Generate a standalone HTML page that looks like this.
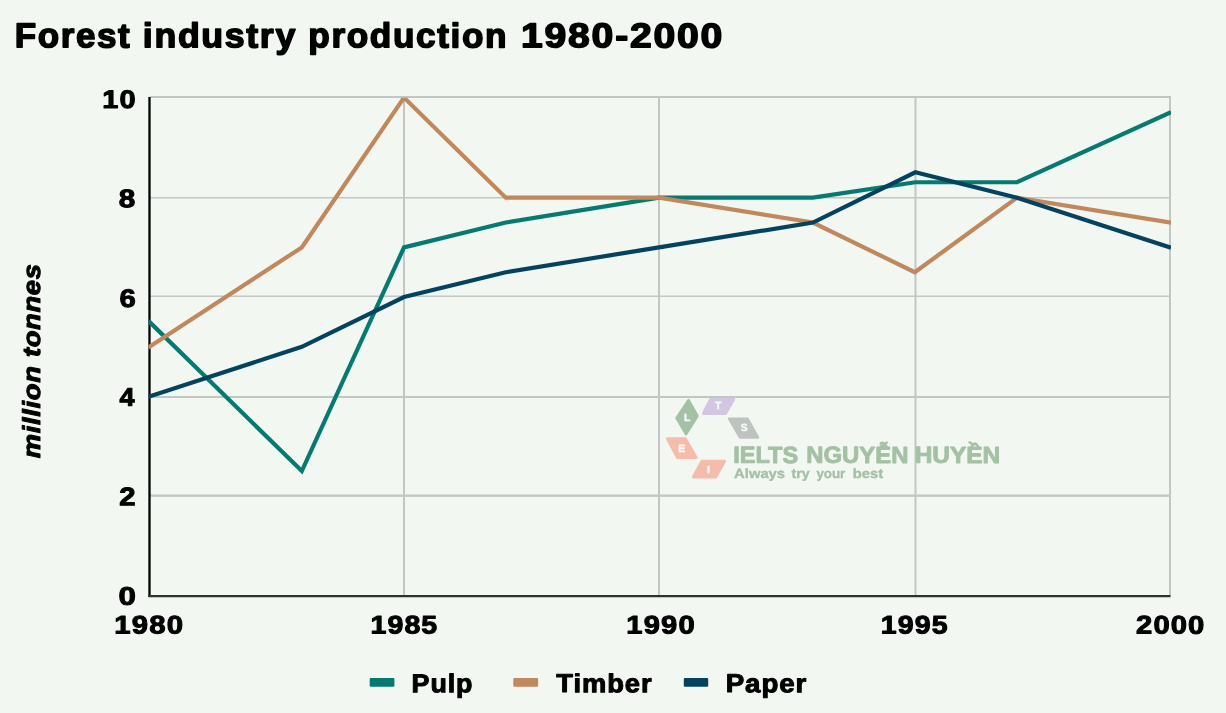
<!DOCTYPE html>
<html>
<head>
<meta charset="utf-8">
<title>Forest industry production 1980-2000</title>
<style>
html,body{margin:0;padding:0;background:#f2f7f2;}
body{width:1226px;height:713px;overflow:hidden;font-family:"Liberation Sans",sans-serif;}
svg{display:block;}
text{text-rendering:geometricPrecision;font-family:"Liberation Sans",sans-serif;font-weight:bold;fill:#000;stroke:#000;stroke-width:1;stroke-linejoin:round;}
.g{stroke:#c1c7c3;stroke-width:2;fill:none;}
.lt text{stroke:#f6faf6;stroke-width:0.4;fill:#f6faf6;}
</style>
</head>
<body>
<svg width="1226" height="713" viewBox="0 0 1226 713">
<defs><filter id="nf" x="-5%" y="-5%" width="110%" height="110%" color-interpolation-filters="sRGB"><feOffset dx="0" dy="0"/></filter><clipPath id="plot"><rect x="148.4" y="97.8" width="1022.6" height="500"/></clipPath></defs>
<rect x="0" y="0" width="1226" height="713" fill="#f2f7f2"/>

<!-- title -->
<g id="title" filter="url(#nf)">
<text x="14.69" y="47.35" transform="rotate(0.1 73.3 47.4)" font-size="34.6" textLength="116.66" lengthAdjust="spacingAndGlyphs" style="fill:#000;stroke:#000;stroke-width:1.5;letter-spacing:1.6px">Forest</text>
<text x="142.87" y="47.35" transform="rotate(0.1 220.2 47.4)" font-size="34.6" textLength="154.05" lengthAdjust="spacingAndGlyphs" style="fill:#000;stroke:#000;stroke-width:1.5;letter-spacing:1.6px">industry</text>
<text x="308.37" y="47.35" transform="rotate(0.1 407.6 47.4)" font-size="34.6" textLength="199.73" lengthAdjust="spacingAndGlyphs" style="fill:#000;stroke:#000;stroke-width:1.5;letter-spacing:1.6px">production</text>
<text x="521.07" y="47.35" transform="rotate(0.1 622.2 47.4)" font-size="34.6" textLength="202.95" lengthAdjust="spacingAndGlyphs" style="fill:#000;stroke:#000;stroke-width:1.5;letter-spacing:1.6px">1980-2000</text>
</g>

<!-- gridlines -->
<g fill="#c1c7c3">
<rect x="150" y="96" width="1021" height="2"/>
<rect x="150" y="197" width="1021" height="1.5"/>
<rect x="150" y="295.5" width="1021" height="1.5"/>
<rect x="150" y="396" width="1021" height="2"/>
<rect x="150" y="494.5" width="1021" height="2.4"/>
<rect x="403" y="96" width="2" height="500"/>
<rect x="658" y="96" width="2" height="500"/>
<rect x="914.5" y="96" width="2" height="500"/>
<rect x="1169" y="96" width="2" height="500"/>
</g>

<!-- watermark -->
<g id="wm">
<path d="M688.51 400.27 L697.43 415.96 L686.04 434.00 L676.69 418.05 Z" fill="#a4c0a5" stroke="#a4c0a5" stroke-width="2.7" stroke-linejoin="round"/>
<path d="M710.33 399.35 L733.86 399.35 L725.62 413.55 L703.10 413.55 Z" fill="#d3c6e1" stroke="#d3c6e1" stroke-width="2.7" stroke-linejoin="round"/>
<path d="M729.32 418.75 L747.41 418.75 L757.90 437.45 L739.98 437.45 Z" fill="#bdc3be" stroke="#bdc3be" stroke-width="2.7" stroke-linejoin="round"/>
<path d="M667.25 438.65 L685.51 438.65 L696.29 457.75 L677.41 457.75 Z" fill="#f5bcab" stroke="#f5bcab" stroke-width="2.7" stroke-linejoin="round"/>
<path d="M701.81 461.15 L724.79 461.15 L715.81 477.15 L693.16 477.15 Z" fill="#f5bcab" stroke="#f5bcab" stroke-width="2.7" stroke-linejoin="round"/>
<g class="lt" font-size="10.4" text-anchor="middle" filter="url(#nf)">
<text x="687.2" y="420.5">L</text>
<text x="718.1" y="409.2">T</text>
<text x="744.2" y="431.2">S</text>
<text x="681.8" y="451.8">E</text>
<text x="708.4" y="472.9">I</text>
</g>
<g id="wmt" filter="url(#nf)">
<text x="733.31" y="462.90" transform="rotate(0.1 766.2 462.9)" font-size="23.4" textLength="64.87" lengthAdjust="spacingAndGlyphs" style="fill:#a4c0a5;stroke:#a4c0a5;stroke-width:0.9;letter-spacing:0px">IELTS</text>
<text x="806.30" y="462.90" transform="rotate(0.1 857.5 462.9)" font-size="23.4" textLength="102.11" lengthAdjust="spacingAndGlyphs" style="fill:#a4c0a5;stroke:#a4c0a5;stroke-width:0.9;letter-spacing:0px">NGUYỄN</text>
<text x="914.67" y="462.90" transform="rotate(0.1 957.5 462.9)" font-size="23.4" textLength="85.55" lengthAdjust="spacingAndGlyphs" style="fill:#a4c0a5;stroke:#a4c0a5;stroke-width:0.9;letter-spacing:0px">HUYỀN</text>
<text x="734.11" y="478.00" transform="rotate(0.1 759.5 478.0)" font-size="13.4" textLength="50.94" lengthAdjust="spacingAndGlyphs" style="fill:#a4c0a5;stroke:#a4c0a5;stroke-width:0.35;letter-spacing:0px">Always</text>
<text x="791.44" y="478.00" transform="rotate(0.1 800.5 478.0)" font-size="13.4" textLength="18.07" lengthAdjust="spacingAndGlyphs" style="fill:#a4c0a5;stroke:#a4c0a5;stroke-width:0.35;letter-spacing:0px">try</text>
<text x="816.39" y="478.00" transform="rotate(0.1 830.8 478.0)" font-size="13.4" textLength="28.89" lengthAdjust="spacingAndGlyphs" style="fill:#a4c0a5;stroke:#a4c0a5;stroke-width:0.35;letter-spacing:0px">your</text>
<text x="852.73" y="478.00" transform="rotate(0.1 868.4 478.0)" font-size="13.4" textLength="30.46" lengthAdjust="spacingAndGlyphs" style="fill:#a4c0a5;stroke:#a4c0a5;stroke-width:0.35;letter-spacing:0px">best</text>
</g>
</g>
<!-- gridline over watermark top -->
<rect x="650" y="396" width="130" height="2" fill="#c1c7c3"/>

<!-- axes -->
<line x1="149.5" y1="97" x2="149.5" y2="597.1" stroke="#000" stroke-width="2.3"/>
<line x1="148.4" y1="596.1" x2="1170.5" y2="596.1" stroke="#303030" stroke-width="2.3"/>

<!-- data lines -->

<g clip-path="url(#plot)" fill="none" stroke-width="4.2" stroke-linejoin="miter" stroke-linecap="butt">
<polyline id="pulp" stroke="#067a70" points="148.4,320.85 301.8,471.00 404.0,247.39 505.8,222.55 659.0,197.70 812.9,197.70 915.3,182.25 1017.0,182.25 1171.0,112.08"/>
<polyline id="timber" stroke="#c2885d" points="148.4,347.49 301.8,247.39 404.0,97.60 505.8,197.70 659.0,197.70 812.9,222.55 914.8,272.24 1017.0,197.70 1171.0,222.71"/>
<polyline id="paper" stroke="#04435f" points="148.4,396.82 301.8,346.77 404.0,297.08 505.8,272.24 659.0,247.39 812.9,222.55 915.3,172.30 1017.0,197.70 1171.0,247.72"/>
</g>


<!-- y labels -->
<g id="yl" filter="url(#nf)">
<text x="102.28" y="108.00" transform="rotate(0.1 119.4 108.0)" font-size="25.6" textLength="34.47" lengthAdjust="spacingAndGlyphs" style="fill:#000;stroke:#000;stroke-width:1.0;letter-spacing:1.0px">10</text>
<text x="118.87" y="207.20" transform="rotate(0.1 127.3 207.2)" font-size="25.6" textLength="17.64" lengthAdjust="spacingAndGlyphs" style="fill:#000;stroke:#000;stroke-width:1.0;letter-spacing:1.0px">8</text>
<text x="119.49" y="307.00" transform="rotate(0.1 127.6 307.0)" font-size="25.6" textLength="17.37" lengthAdjust="spacingAndGlyphs" style="fill:#000;stroke:#000;stroke-width:1.0;letter-spacing:1.0px">6</text>
<text x="119.49" y="405.70" transform="rotate(0.1 127.2 405.7)" font-size="25.6" textLength="16.08" lengthAdjust="spacingAndGlyphs" style="fill:#000;stroke:#000;stroke-width:1.0;letter-spacing:1.0px">4</text>
<text x="119.36" y="505.30" transform="rotate(0.1 127.4 505.3)" font-size="25.6" textLength="17.40" lengthAdjust="spacingAndGlyphs" style="fill:#000;stroke:#000;stroke-width:1.0;letter-spacing:1.0px">2</text>
<text x="118.54" y="604.80" transform="rotate(0.1 127.2 604.8)" font-size="25.6" textLength="18.58" lengthAdjust="spacingAndGlyphs" style="fill:#000;stroke:#000;stroke-width:1.0;letter-spacing:1.0px">0</text>
</g>

<!-- x labels -->
<g id="xl" filter="url(#nf)">
<text x="114.36" y="633.60" transform="rotate(0.1 149.1 633.6)" font-size="25.6" textLength="69.73" lengthAdjust="spacingAndGlyphs" style="fill:#000;stroke:#000;stroke-width:1.0;letter-spacing:1.0px">1980</text>
<text x="370.40" y="633.60" transform="rotate(0.1 404.4 633.6)" font-size="25.6" textLength="67.98" lengthAdjust="spacingAndGlyphs" style="fill:#000;stroke:#000;stroke-width:1.0;letter-spacing:1.0px">1985</text>
<text x="626.37" y="633.60" transform="rotate(0.1 661.0 633.6)" font-size="25.6" textLength="69.41" lengthAdjust="spacingAndGlyphs" style="fill:#000;stroke:#000;stroke-width:1.0;letter-spacing:1.0px">1990</text>
<text x="880.70" y="633.60" transform="rotate(0.1 914.7 633.6)" font-size="25.6" textLength="67.98" lengthAdjust="spacingAndGlyphs" style="fill:#000;stroke:#000;stroke-width:1.0;letter-spacing:1.0px">1995</text>
<text x="1136.06" y="633.60" transform="rotate(0.1 1170.2 633.6)" font-size="25.6" textLength="69.42" lengthAdjust="spacingAndGlyphs" style="fill:#000;stroke:#000;stroke-width:1.0;letter-spacing:1.0px">2000</text>
</g>

<!-- y axis title -->
<g id="yt" filter="url(#nf)">
<text transform="translate(40.00 458.20) rotate(-90)" font-size="24.6" font-style="italic" textLength="194.75" lengthAdjust="spacingAndGlyphs" style="stroke-width:1.0;letter-spacing:0.6px">million tonnes</text>
</g>

<!-- legend -->
<rect x="369.7" y="678" width="24.7" height="8.7" rx="1" fill="#067a70"/>
<rect x="513.3" y="678" width="24.8" height="8.7" rx="1" fill="#c2885d"/>
<rect x="683.8" y="678" width="24.4" height="8.7" rx="1" fill="#04435f"/>
<g id="lg" filter="url(#nf)">
<text x="411.60" y="692.20" transform="rotate(0.1 442.4 692.2)" font-size="25.9" textLength="61.80" lengthAdjust="spacingAndGlyphs" style="fill:#000;stroke:#000;stroke-width:1.0;letter-spacing:0.9px">Pulp</text>
<text x="556.36" y="692.20" transform="rotate(0.1 604.0 692.2)" font-size="25.9" textLength="96.18" lengthAdjust="spacingAndGlyphs" style="fill:#000;stroke:#000;stroke-width:1.0;letter-spacing:0.9px">Timber</text>
<text x="725.66" y="692.20" transform="rotate(0.1 766.8 692.2)" font-size="25.9" textLength="81.68" lengthAdjust="spacingAndGlyphs" style="fill:#000;stroke:#000;stroke-width:1.0;letter-spacing:0.9px">Paper</text>
</g>
</svg>
</body>
</html>
